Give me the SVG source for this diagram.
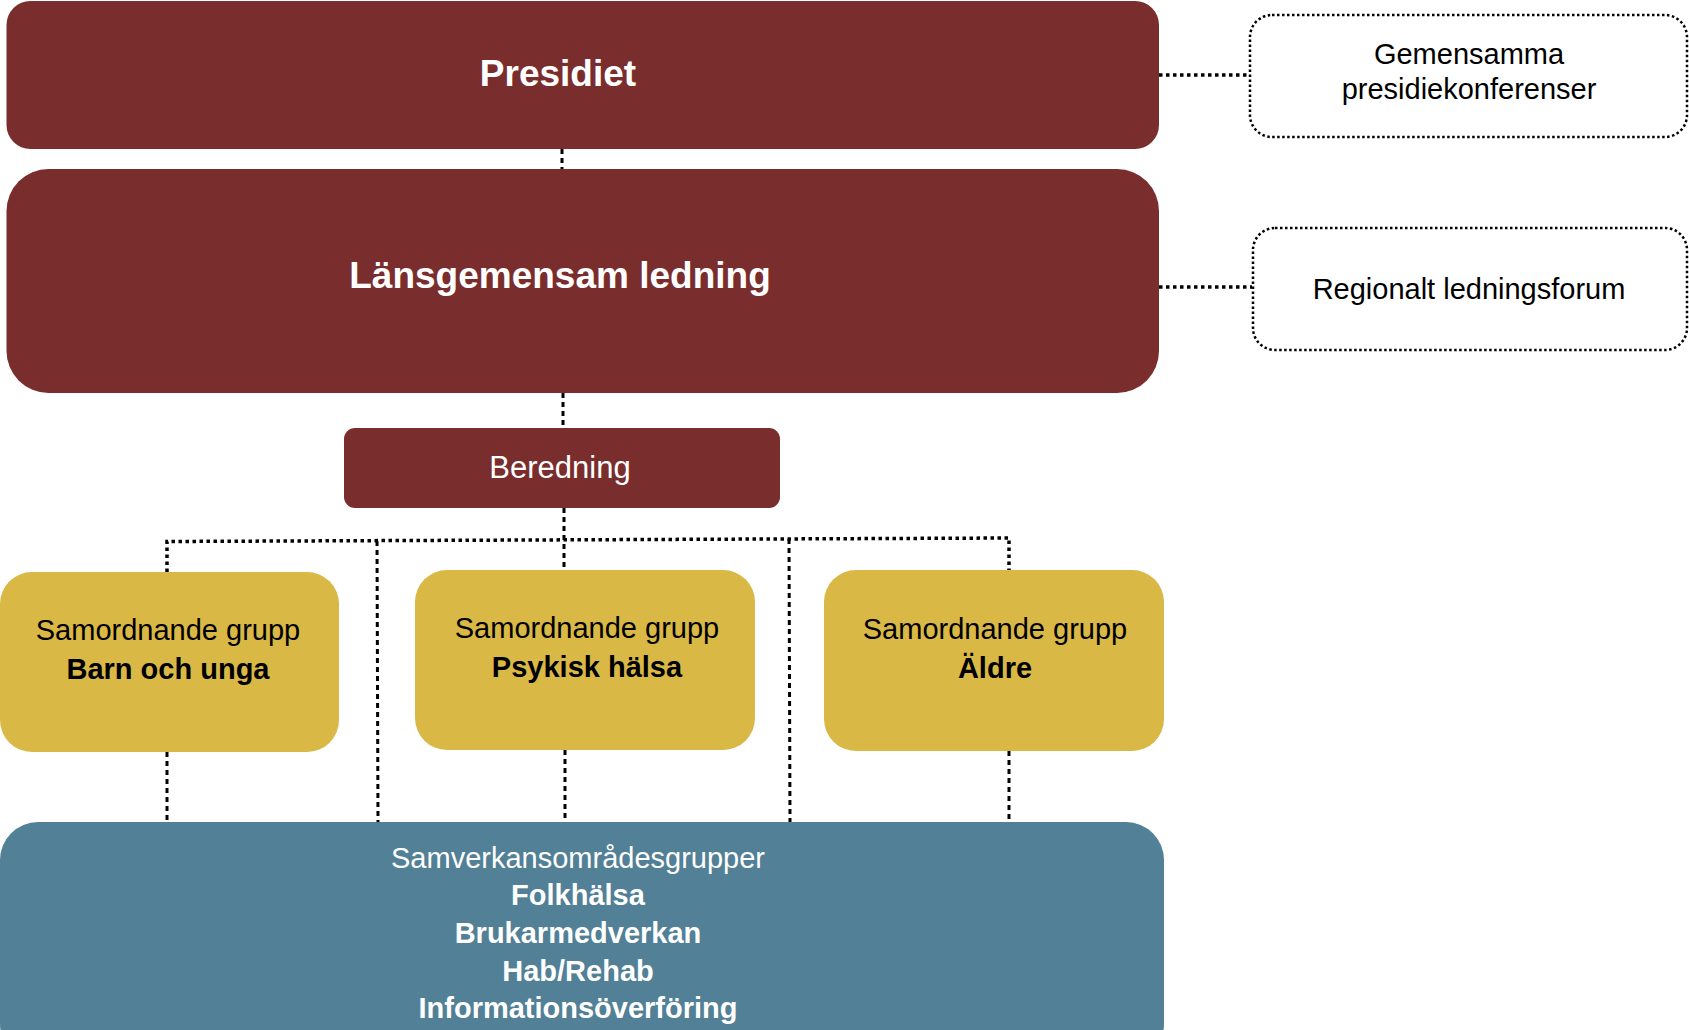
<svg xmlns="http://www.w3.org/2000/svg" width="1689" height="1030" viewBox="0 0 1689 1030">
<style>
.red{fill:#7A2D2D}
.yel{fill:#D9B846}
.blue{fill:#528096}
.side{fill:#fff;stroke:#000;stroke-width:2.5;stroke-dasharray:2.5 2.5}
.con{stroke:#000;stroke-width:3.5;stroke-dasharray:3.5 3.5;fill:none}
.conv{stroke:#000;stroke-width:3;stroke-dasharray:5 4;fill:none}
text{font-family:"Liberation Sans",Arial,sans-serif;text-anchor:middle}
.w{fill:#fff}
.k{fill:#000}
.b{font-weight:bold}
</style>
<rect width="1689" height="1030" fill="#fff"/>
<g id="connectors">
  <line class="conv" x1="562" y1="149" x2="562" y2="169"/>
  <line class="conv" x1="563" y1="393" x2="563" y2="428"/>
  <line class="conv" x1="564" y1="508" x2="564" y2="570"/>
  <polyline class="con" points="167,572 167,541.5 1009,538 1009,570"/>
  <line class="conv" x1="377" y1="541" x2="378" y2="822"/>
  <line class="conv" x1="789" y1="539" x2="790" y2="822"/>
  <line class="conv" x1="167" y1="752" x2="167" y2="822"/>
  <line class="conv" x1="565" y1="750" x2="565" y2="822"/>
  <line class="conv" x1="1009" y1="751" x2="1009" y2="822"/>
  <line class="con" x1="1159" y1="75" x2="1249" y2="75"/>
  <line class="con" x1="1159" y1="287" x2="1252" y2="287"/>
</g>
<g id="presidiet">
  <rect class="red" x="6.5" y="1" width="1152.5" height="148" rx="24"/>
  <text class="w b" x="558" y="86" font-size="37">Presidiet</text>
</g>
<g id="lansgemensam">
  <rect class="red" x="6.5" y="169" width="1152.5" height="224" rx="42"/>
  <text class="w b" x="560" y="288" font-size="37">Länsgemensam ledning</text>
</g>
<g id="gemensamma">
  <rect class="side" x="1250" y="15" width="437" height="122" rx="22"/>
  <text class="k" x="1469" y="64" font-size="29">Gemensamma</text>
  <text class="k" x="1469" y="99" font-size="29">presidiekonferenser</text>
</g>
<g id="regionalt">
  <rect class="side" x="1253" y="228" width="434" height="122" rx="22"/>
  <text class="k" x="1469" y="299" font-size="29">Regionalt ledningsforum</text>
</g>
<g id="beredning">
  <rect class="red" x="344" y="428" width="436" height="80" rx="11"/>
  <text class="w" x="560" y="478" font-size="31">Beredning</text>
</g>
<g id="barn">
  <rect class="yel" x="0" y="572" width="339" height="180" rx="32"/>
  <text class="k" x="168" y="640" font-size="29">Samordnande grupp</text>
  <text class="k b" x="168" y="679" font-size="29">Barn och unga</text>
</g>
<g id="psykisk">
  <rect class="yel" x="415" y="570" width="340" height="180" rx="32"/>
  <text class="k" x="587" y="638" font-size="29">Samordnande grupp</text>
  <text class="k b" x="587" y="677" font-size="29">Psykisk hälsa</text>
</g>
<g id="aldre">
  <rect class="yel" x="824" y="570" width="340" height="181" rx="32"/>
  <text class="k" x="995" y="639" font-size="29">Samordnande grupp</text>
  <text class="k b" x="995" y="678" font-size="29">Äldre</text>
</g>
<g id="samverkan">
  <rect class="blue" x="0" y="822" width="1164" height="240" rx="38"/>
  <text class="w" x="578" y="868" font-size="29">Samverkansområdesgrupper</text>
  <text class="w b" x="578" y="905" font-size="29">Folkhälsa</text>
  <text class="w b" x="578" y="943" font-size="29">Brukarmedverkan</text>
  <text class="w b" x="578" y="981" font-size="29">Hab/Rehab</text>
  <text class="w b" x="578" y="1018" font-size="29">Informationsöverföring</text>
</g>
</svg>
